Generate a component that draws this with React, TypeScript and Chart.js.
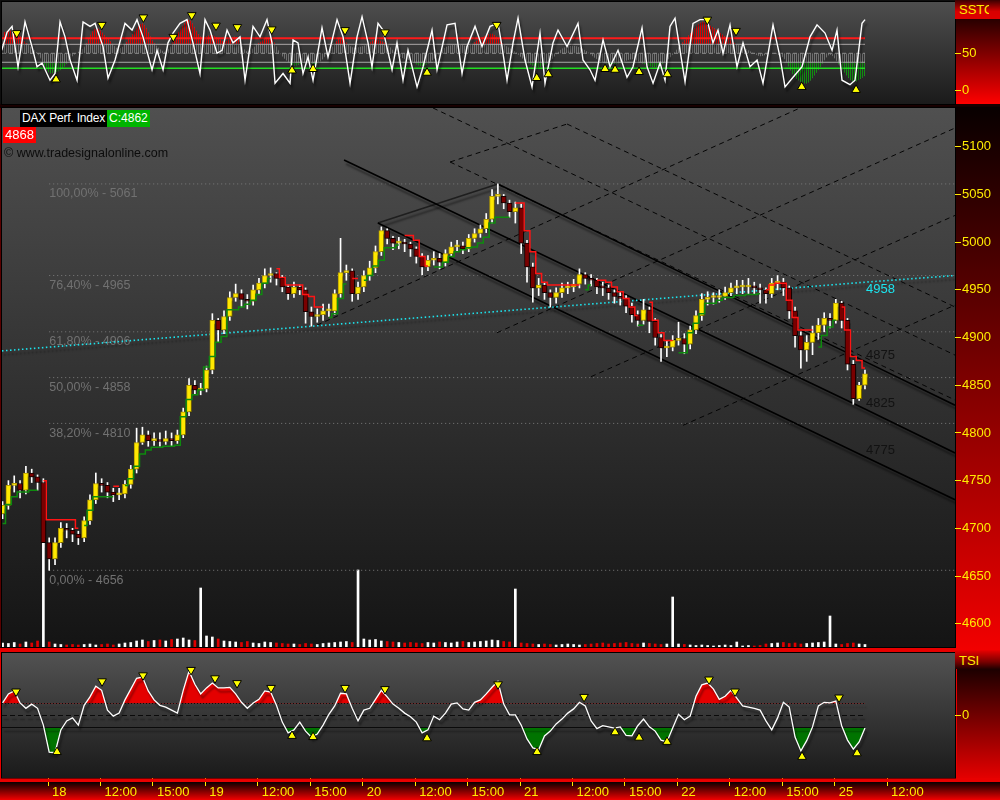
import React, { useEffect, useRef } from "react";
import { Chart, registerables } from "chart.js";

Chart.register(...registerables);

const FONT = "'Liberation Sans', Arial, sans-serif";
const YELLOW = "#ffec00";
const _ = null;

// ---------- time axis: 20-minute slots, slot 0 = day 18, 09:00 ----------
const TIME_TICKS = [0, 9, 18, 27, 36, 45, 54, 63, 72, 81, 90, 99, 108, 117, 126, 135, 144];
const TIME_LABELS = ["18", "12:00", "15:00", "19", "12:00", "15:00", "20", "12:00", "15:00", "21", "12:00", "15:00", "22", "12:00", "15:00", "25", "12:00"];
const X_MIN = -7.9;
const X_MAX = 155.65;
const FIRST_BAR_SLOT = -7.8;

// ---------- price bars (20 min) ----------
const OPEN_FIRST = 4715;
const CLOSE = [
  4724, 4745, 4747, 4740, 4758, 4754, 4748, 4685, 4668, 4685,
  4700, 4698, 4694, 4690, 4708, 4730, 4747, 4745, 4738, 4735,
  4736, 4746, 4762, 4790, 4798, 4792, 4793, 4791, 4794, 4792,
  4798, 4822, 4850, 4845, 4846, 4866, 4918, 4908, 4922, 4942,
  4946, 4940, 4938, 4950, 4957, 4965, 4967, 4962, 4953, 4946,
  4953, 4950, 4927, 4922, 4924, 4928, 4928, 4946, 4968, 4970,
  4946, 4953, 4965, 4973, 4990, 5012, 5004, 4999, 4999, 4998,
  4993, 4985, 4974, 4981, 4983, 4979, 4988, 4995, 4996, 4993,
  5004, 5009, 5014, 5024, 5048, 5048, 5041, 5032, 5036, 4999,
  4974, 4952, 4955, 4947, 4942, 4947, 4952, 4953, 4956, 4966,
  4962, 4960, 4953, 4952, 4947, 4943, 4941, 4933, 4924, 4918,
  4929, 4917, 4900, 4889, 4890, 4897, 4899, 4893, 4908, 4923,
  4940, 4942, 4942, 4943, 4947, 4952, 4953, 4953, 4953, 4952,
  4950, 4946, 4957, 4958, 4952, 4928, 4902, 4887, 4895, 4905,
  4913, 4920, 4918, 4936, 4918, 4872, 4836, 4850, 4862,
];
const HIGH = [
  4728, 4750, 4755, 4750, 4765, 4762, 4756, 4752, 4690, 4690,
  4706, 4705, 4700, 4697, 4712, 4735, 4758, 4752, 4748, 4742,
  4742, 4750, 4766, 4805, 4806, 4802, 4800, 4800, 4802, 4800,
  4803, 4826, 4857, 4855, 4852, 4870, 4925, 4920, 4928, 4948,
  4956, 4950, 4945, 4955, 4962, 4972, 4973, 4968, 4965, 4955,
  4958, 4955, 4952, 4932, 4930, 4935, 4935, 4950, 5004, 4976,
  4972, 4958, 4970, 4980, 4996, 5016, 5014, 5006, 5005, 5003,
  5000, 4995, 4988, 4986, 4990, 4988, 4992, 5000, 5002, 5000,
  5008, 5014, 5018, 5030, 5055, 5061, 5050, 5044, 5042, 5040,
  5002, 4978, 4962, 4958, 4950, 4952, 4957, 4958, 4961, 4972,
  4968, 4966, 4962, 4958, 4955, 4950, 4948, 4944, 4936, 4928,
  4940, 4932, 4920, 4903, 4897, 4902, 4916, 4904, 4912, 4928,
  4946, 4948, 4947, 4950, 4953, 4957, 4960, 4960, 4962, 4958,
  4956, 4952, 4962, 4965, 4962, 4954, 4932, 4906, 4902, 4912,
  4920, 4926, 4925, 4940, 4938, 4920, 4876, 4853, 4866,
];
const LOW = [
  4710, 4720, 4738, 4732, 4736, 4748, 4740, 4680, 4656, 4662,
  4680, 4690, 4686, 4683, 4686, 4704, 4726, 4738, 4732, 4728,
  4730, 4732, 4742, 4758, 4788, 4786, 4787, 4786, 4788, 4786,
  4789, 4795, 4818, 4840, 4840, 4843, 4862, 4895, 4904, 4918,
  4938, 4932, 4930, 4934, 4946, 4952, 4958, 4955, 4948, 4940,
  4942, 4945, 4915, 4912, 4916, 4918, 4922, 4924, 4942, 4960,
  4938, 4940, 4948, 4960, 4968, 4986, 4998, 4992, 4993, 4990,
  4985, 4978, 4966, 4970, 4976, 4972, 4975, 4985, 4990, 4988,
  4990, 5000, 5005, 5010, 5020, 5040, 5035, 5026, 5020, 4988,
  4958, 4937, 4944, 4940, 4932, 4936, 4942, 4946, 4948, 4952,
  4956, 4954, 4946, 4944, 4940, 4936, 4934, 4926, 4916, 4912,
  4914, 4905, 4892, 4875, 4880, 4886, 4892, 4883, 4888, 4904,
  4918, 4934, 4935, 4937, 4940, 4944, 4946, 4946, 4946, 4945,
  4936, 4936, 4942, 4950, 4944, 4920, 4890, 4868, 4875, 4882,
  4898, 4906, 4910, 4915, 4910, 4866, 4830, 4834, 4846,
];
const VOLUME = [
  40, 35, 45, 30, 50, 40, 60, 1070, 50, 30,
  25, 20, 25, 20, 25, 30, 20, 25, 30, 20,
  30, 40, 45, 60, 70, 55, 65, 70, 60, 75,
  80, 90, 70, 65, 590, 110, 100, 80, 60, 55,
  50, 45, 55, 40, 35, 50, 45, 40, 35, 30,
  30, 25, 35, 30, 25, 35, 40, 45, 50, 55,
  45, 770, 80, 70, 75, 60, 55, 50, 45, 40,
  45, 40, 35, 45, 40, 50, 45, 40, 50, 55,
  45, 50, 55, 60, 70, 65, 55, 50, 580, 40,
  35, 30, 25, 30, 25, 20, 25, 30, 25, 20,
  25, 30, 35, 40, 30, 35, 40, 45, 35, 30,
  40, 35, 30, 25, 30, 500, 30, 25, 20, 15,
  20, 15, 10, 15, 20, 15, 50, 10, 15, 10,
  15, 30, 35, 40, 45, 35, 40, 30, 35, 40,
  45, 50, 310, 30, 25, 35, 40, 30, 25,
];
const VOLUME_SIDE =
  "uuududdudu" + "uddduuuddd" + "uuuuududud" + "uuuduuuduu" + "udduuuuddd" +
  "uddduuuuuu" + "duuuuuddud" + "ddduuduuud" + "uuuuuuddud" + "ddudduuuuu" +
  "dddddddddd" + "uddduuuduu" + "uuuuuuuuud" + "dduudddduu" + "uuuuddduu";
const LONG_STOP = [
  4705, 4725, 4733, 4738, 4738, 4740, 4740, _, _, _,
  _, _, _, _, 4703, 4719, 4733, 4733, 4733, 4733,
  _, 4745, 4752, 4765, 4778, 4782, 4785, 4785, 4786, 4786,
  4787, 4817, 4835, 4840, 4845, 4869, 4880, 4895, 4901, 4929,
  4929, 4932, 4935, 4939, 4945, 4957, 4962, _, _, _,
  _, _, _, _, _, _, 4921, 4925, 4941, 4956,
  _, _, 4960, 4965, 4975, 4981, 4994, 4994, 4997, _,
  _, _, _, _, 4974, 4974, 4979, 4985, 4990, 4992,
  4994, 4995, 4999, 5005, 5020, 5026, 5026, 5026, _, _,
  _, _, _, _, _, _, _, _, _, _,
  4950, 4955, _, _, _, _, _, _, _, 4913,
  4913, _, _, _, _, _, 4884, 4884, 4905, 4915,
  4925, 4936, 4936, 4939, 4942, 4942, 4944, 4944, 4945, 4945,
  4946, _, _, _, _, _, _, _, _, _,
  4890, 4902, 4911, 4918, _, _, _, _, _,
];
const SHORT_STOP = [
  _, _, _, _, _, _, _, 4750, 4709, 4709,
  4709, 4709, 4709, 4700, _, _, _, _, _, 4744,
  4744, _, _, _, _, _, _, _, _, _,
  _, _, _, _, _, _, _, _, _, _,
  _, _, _, _, _, _, _, 4972, 4963, 4955,
  4955, 4955, 4945, 4943, 4932, 4932, _, _, _, _,
  4962, 4962, _, _, _, _, _, _, _, 5007,
  5007, 5002, 4985, 4975, _, _, _, _, _, _,
  _, _, _, _, _, _, _, _, 5041, 5041,
  5012, 4990, 4967, 4958, 4955, 4955, 4955, 4955, 4955, 4955,
  _, _, 4960, 4960, 4958, 4953, 4948, 4941, 4932, 4923,
  _, 4937, 4918, 4905, 4897, 4897, _, _, _, _,
  _, _, _, _, _, _, _, _, _, _,
  _, 4950, 4955, 4957, 4957, 4939, 4921, 4908, 4908, 4908,
  _, _, _, _, 4932, 4908, 4880, 4876, 4868,
];

// ---------- price axis & drawings ----------
const PRICE_MIN = 4575.6;
const PRICE_MAX = 5140.6;
const PRICE_TICKS = [4600, 4650, 4700, 4750, 4800, 4850, 4900, 4950, 5000, 5050, 5100];
const VOL_MAX = 5390;
const FIB_LEVELS = [5061, 4965, 4906, 4858, 4810, 4656];
const FIB_NAMES = ["100,00%", "76,40%", "61,80%", "50,00%", "38,20%", "0,00%"];
const FIB_START_SLOT = 0.2;
// channel lines: [startSlot, startValue, labelSlot, labelValue, endSlot, endValue]
const CHANNELS = [
  [77.2, 5061, 140.2, 4875, 155.65, 4829],
  [50.8, 5086, 140.2, 4825, 155.65, 4779],
  [56.6, 5020, 140.2, 4775, 155.65, 4730],
];
const CHANNEL_LINK = [[56.6, 5020], [77.2, 5061]];
const DASHED_LINES = [
  [66.07, 5140.6, 155.65, 4881.6],
  [89.07, 5123.8, 155.65, 4932.0],
  [68.99, 5084.0, 155.65, 4834.5],
  [68.99, 5084.0, 89.07, 5123.8],
  [46.16, 4913.0, 129.05, 5140.6],
  [77.05, 4905.0, 155.65, 5119.6],
  [93.19, 4859.0, 155.65, 5028.0],
  [108.98, 4808.0, 155.65, 4934.0],
];
const TREND = [[-7.9, 4886], [140.2, 4958], [155.65, 4965]];

// ---------- SSTO ----------
const SSTO_MIN = -17.8;
const SSTO_MAX = 118.6;
const SSTO_SLOT = [
  -7.95, -7.04, -6.18, -5.15, -3.95, -2.75, -1.89, -1.03, 0.34, 1.2,
  2.06, 2.92, 3.78, 4.98, 6.01, 7.21, 8.07, 9.44, 10.3, 11.5,
  13.21, 14.42, 15.27, 16.3, 17.85, 18.71, 19.74, 20.59, 21.45, 22.65,
  23.85, 24.88, 26.08, 26.94, 27.8, 29.0, 29.86, 30.72, 31.75, 32.95,
  33.81, 35.18, 36.38, 37.58, 38.44, 38.96, 40.33, 41.53, 42.05, 42.9,
  43.76, 44.62, 45.48, 47.02, 48.05, 49.6, 50.63, 51.83, 53.03, 53.89,
  54.92, 55.6, 56.63, 57.49, 59.04, 59.89, 60.92, 61.78, 63.33, 64.36,
  65.9, 66.76, 68.48, 69.85, 71.05, 71.91, 73.28, 74.48, 75.86, 77.23,
  77.91, 78.77, 79.8, 80.66, 81.86, 83.06, 84.43, 85.29, 86.66, 87.52,
  89.07, 90.95, 91.81, 93.01, 93.87, 95.25, 96.45, 97.82, 99.36, 100.39,
  101.94, 102.8, 103.83, 105.03, 105.89, 106.74, 107.6, 108.46, 109.32, 110.69,
  111.89, 113.09, 114.12, 114.98, 115.84, 117.04, 118.24, 119.27, 120.47, 121.68,
  122.7, 124.42, 125.62, 126.48, 127.85, 129.4, 130.77, 131.97, 133.34, 134.55,
  135.4, 136.26, 137.63, 138.49, 139.69, 140.21,
];
const SSTO_VALUE = [
  54, 78, 86, 32, 92, 59, 32, 37, 14, 23,
  92, 72, 41, 14, 92, 86, 90, 59, 17, 41,
  90, 81, 95, 72, 28, 54, 28, 64, 77, 90,
  95, 64, 23, 95, 81, 50, 54, 81, 64, 72,
  14, 86, 72, 95, 64, 10, 23, 10, 68, 64,
  23, 45, 14, 84, 45, 95, 72, 10, 72, 99,
  64, 32, 90, 81, 28, 64, 14, 54, 5, 32,
  81, 28, 88, 90, 23, 59, 86, 59, 86, 90,
  59, 14, 64, 97, 41, 5, 77, 10, 64, 81,
  59, 90, 41, 28, 14, 68, 32, 54, 18, 32,
  84, 32, 10, 37, 14, 86, 97, 54, 12, 90,
  95, 95, 64, 81, 50, 88, 32, 64, 32, 41,
  10, 88, 45, 5, 18, 32, 72, 88, 77, 54,
  81, 14, 8, 14, 90, 95,
];
// signal line, one value every second bar
const SSTO_SIGNAL = [
  78, 80, 64, 50, 24, 28, 46, 58, 84, 70,
  56, 72, 90, 64, 52, 76, 95, 72, 74, 66,
  72, 52, 64, 70, 46, 34, 38, 36, 52, 70,
  58, 60, 68, 62, 46, 40, 33, 42, 58, 62,
  60, 70, 76, 62, 52, 38, 32, 40, 56, 60,
  54, 42, 36, 37, 42, 36, 32, 40, 58, 76,
  92, 84, 72, 62, 54, 46, 50, 44, 18, 10,
  28, 48, 30, 12, 20,
];
const SSTO_LEVELS = [70, 62, 50, 38, 30];
const SSTO_PEAK_SLOT = [-5.37, 9.22, 16.36, 21.5, 24.66, 28.83, 32.49, 38.39, 50.97, 57.83, 77.0, 113.15, 118.07];
const SSTO_PEAK_VALUE = [77, 88, 98, 72, 101, 87, 85, 82, 81, 78, 88, 95, 80];
const SSTO_TROUGH_SLOT = [1.37, 41.87, 45.48, 65.04, 83.87, 85.86, 95.59, 97.31, 101.43, 106.29, 129.34, 138.67];
const SSTO_TROUGH_VALUE = [15, 27, 29, 24, 17, 22, 29, 28, 25, 22, 5, 1];

// ---------- TSI (one value per bar) ----------
const TSI_MIN = -104.2;
const TSI_MAX = 104.2;
const TSI = [
  21, 36, 41, 21, 12, 19, 12, -16, -61, -62,
  -24, -9, -4, -16, 17, 31, 49, 42, 9, -1,
  4, 26, 44, 62, 64, 41, 26, 17, 14, 9,
  4, 42, 74, 52, 36, 46, 54, 46, 46, 47,
  36, 22, 12, 21, 27, 41, 39, 17, -11, -29,
  -24, -11, -26, -36, -31, -16, 2, 16, 37, 36,
  12, -9, 9, 12, 27, 42, 31, 19, 12, 4,
  -2, -11, -29, -24, -1, -7, 4, 19, 21, 11,
  9, 22, 26, 36, 47, 57, 19, 1, 1, -16,
  -39, -54, -57, -34, -26, -14, -6, 4, 11, 22,
  16, -9, -22, -17, -19, -21, -19, -33, -34, -17,
  -6, -19, -26, -41, -44, -21, 2, -7, -1, 32,
  51, 54, 44, 27, 32, 42, 29, 16, 14, 12,
  9, -9, -24, -4, 22, 14, -36, -59, -42, -19,
  16, 22, 21, 24, -17, -41, -56, -44, -21,
];
const TSI_UPPER = 20;
const TSI_LOWER = -20;
const TSI_PEAK_SLOT = [-5.49, 9.27, 16.3, 24.54, 28.66, 32.44, 38.27, 50.97, 57.83, 77.23, 91.99, 113.44, 117.9, 135.75];
const TSI_PEAK_VALUE = [40, 57, 67, 76, 62, 54, 46, 46, 44, 52, 31, 60, 40, 30];
const TSI_TROUGH_SLOT = [1.54, 41.87, 45.48, 65.04, 83.92, 97.31, 101.43, 106.23, 129.4, 138.84];
const TSI_TROUGH_VALUE = [-61, -34, -36, -38, -61, -28, -37, -44, -69, -63];

// ---------- helpers ----------
const slot = (i: number) => FIRST_BAR_SLOT + i;
const LAST_SLOT = slot(CLOSE.length - 1);
const OPEN = CLOSE.map((c, i) => (i === 0 ? OPEN_FIRST : CLOSE[i - 1]));
const SHADOW = ["rgba(0,0,0,0.45)", 2, 4, 2];

function seg(points: number[][], color: string, width: number, dash: number[], order: number, extra: any = {}) {
  return {
    type: "line",
    data: points.map((p) => ({ x: p[0], y: p[1] })),
    borderColor: color,
    borderWidth: width,
    borderDash: dash,
    pointRadius: 0,
    pointHoverRadius: 0,
    fill: false,
    tension: 0,
    order,
    ...extra,
  };
}

function markers(xs: number[], ys: number[], rotation: number, order: number) {
  return {
    type: "line",
    showLine: false,
    data: xs.map((x, i) => ({ x, y: ys[i] })),
    pointStyle: "triangle",
    pointRadius: 5,
    pointRotation: rotation,
    pointBackgroundColor: "#ffff00",
    pointBorderColor: "#000000",
    pointBorderWidth: 1,
    clip: false,
    order,
  };
}

function vGrad(ctx: CanvasRenderingContext2D, y0: number, y1: number, c0: string, c1: string) {
  const g = ctx.createLinearGradient(0, y0, 0, y1);
  g.addColorStop(0, c0);
  g.addColorStop(1, c1);
  return g;
}

function hatch(ctx: CanvasRenderingContext2D, color: string) {
  const c = document.createElement("canvas");
  c.width = 2;
  c.height = 2;
  const g = c.getContext("2d")!;
  g.fillStyle = color;
  g.fillRect(0, 0, 1, 2);
  return ctx.createPattern(c, "repeat");
}

const shadowPlugin = {
  id: "dsShadow",
  beforeDatasetDraw(chart: any, args: any) {
    const ds: any = chart.data.datasets[args.index];
    if (!ds.shadow) return;
    const ctx = chart.ctx;
    ctx.save();
    ctx.shadowColor = ds.shadow[0];
    ctx.shadowOffsetX = ds.shadow[1];
    ctx.shadowOffsetY = ds.shadow[2];
    ctx.shadowBlur = ds.shadow[3];
  },
  afterDatasetDraw(chart: any, args: any) {
    const ds: any = chart.data.datasets[args.index];
    if (!ds.shadow) return;
    chart.ctx.restore();
  },
};

function xScale(show: boolean) {
  return {
    type: "linear",
    position: "bottom",
    min: X_MIN,
    max: X_MAX,
    display: show,
    offset: false,
    grid: { display: show, drawOnChartArea: false, drawTicks: true, tickLength: 8, color: YELLOW, tickColor: YELLOW },
    border: { display: false },
    afterBuildTicks: (ax: any) => {
      ax.ticks = TIME_TICKS.map((v) => ({ value: v }));
    },
    afterFit: (ax: any) => {
      ax.height = show ? 22 : 0;
      ax.paddingLeft = 0;
      ax.paddingRight = 0;
      ax.paddingTop = 0;
      ax.paddingBottom = 0;
    },
    ticks: {
      display: show,
      autoSkip: false,
      maxRotation: 0,
      minRotation: 0,
      align: "start",
      labelOffset: 4,
      padding: -1,
      color: YELLOW,
      font: { family: FONT, size: 13 },
      callback: (_v: any, i: number) => TIME_LABELS[i],
    },
  };
}

function yScale(min: number, max: number, tickValues: number[]) {
  return {
    type: "linear",
    position: "right",
    min,
    max,
    grid: { drawOnChartArea: false, drawTicks: true, tickLength: 6, color: YELLOW, tickColor: YELLOW },
    border: { display: false },
    afterBuildTicks: (ax: any) => {
      ax.ticks = tickValues.map((v) => ({ value: v }));
    },
    afterFit: (ax: any) => {
      ax.width = 45;
      ax.paddingTop = 0;
      ax.paddingBottom = 0;
      ax.paddingLeft = 0;
      ax.paddingRight = 0;
    },
    ticks: { color: YELLOW, padding: 1, font: { family: FONT, size: 13 }, callback: (v: any) => String(v) },
  };
}

function baseOptions(padding: any, scales: any) {
  return {
    responsive: false,
    maintainAspectRatio: false,
    animation: false,
    events: [],
    layout: { padding, autoPadding: false },
    plugins: { legend: { display: false }, tooltip: { enabled: false } },
    scales,
  };
}

// ---------- SSTO panel ----------
function sstoConfig(canvas: HTMLCanvasElement): any {
  const ctx = canvas.getContext("2d")!;
  const signal = SSTO_SIGNAL.map((v, k) => ({ x: slot(2 * k), y: v }));
  const levelStyle: any = {
    70: ["#ff1a1a", 2, []],
    62: ["#a8a8a8", 1, []],
    50: ["#8c8c8c", 1, [4, 3]],
    38: ["#a8a8a8", 1, []],
    30: ["#22dd22", 1.5, []],
  };
  const datasets: any[] = [
    { type: "line", data: signal, borderWidth: 0, pointRadius: 0, tension: 0.3, order: 20,
      fill: { target: { value: 50 }, above: hatch(ctx, "#707070"), below: hatch(ctx, "#707070") } },
    { type: "line", data: signal, borderWidth: 0, pointRadius: 0, tension: 0.3, order: 19,
      fill: { target: { value: 62 }, above: hatch(ctx, "#e00000"), below: "rgba(0,0,0,0)" } },
    { type: "line", data: signal, borderWidth: 0, pointRadius: 0, tension: 0.3, order: 18,
      fill: { target: { value: 38 }, above: "rgba(0,0,0,0)", below: hatch(ctx, "#109010") } },
  ];
  SSTO_LEVELS.forEach((lv) => {
    const s = levelStyle[lv];
    datasets.push(seg([[X_MIN, lv], [LAST_SLOT, lv]], s[0], s[1], s[2], 15));
  });
  datasets.push(seg(SSTO_SLOT.map((x, i) => [x, SSTO_VALUE[i]]), "#ffffff", 1.4, [], 5, { shadow: SHADOW }));
  datasets.push(markers(SSTO_PEAK_SLOT, SSTO_PEAK_VALUE, 180, 1));
  datasets.push(markers(SSTO_TROUGH_SLOT, SSTO_TROUGH_VALUE, 0, 1));

  const bg = {
    id: "sstoBg",
    beforeDraw(chart: any) {
      const { ctx: c, chartArea: a, width: w, height: h } = chart;
      c.save();
      c.fillStyle = "#0e0e0e";
      c.fillRect(0, 0, w, h);
      c.fillStyle = "#1a0000";
      c.fillRect(0, a.bottom, w, h - a.bottom);
      c.fillStyle = vGrad(c, a.top, a.bottom, "#4e4e4e", "#1b1b1b");
      c.fillRect(a.left, a.top, a.right - a.left, a.bottom - a.top);
      c.fillStyle = vGrad(c, 19, a.bottom, "#280000", "#ff0000");
      c.fillRect(a.right, 19, w - a.right, a.bottom - 19);
      c.strokeStyle = "#000";
      c.lineWidth = 1;
      c.strokeRect(a.left - 0.5, a.top - 0.5, a.right - a.left + 1, a.bottom - a.top + 1);
      c.restore();
    },
  };
  return {
    type: "line",
    data: { datasets },
    options: baseOptions({ left: 2, top: 2, right: 0, bottom: 2 }, { x: xScale(false), y: yScale(SSTO_MIN, SSTO_MAX, [0, 50]) }),
    plugins: [bg, shadowPlugin],
  };
}

// ---------- main price panel ----------
function mainConfig(): any {
  const datasets: any[] = [];
  datasets.push({
    type: "bar",
    yAxisID: "vol",
    data: VOLUME.map((v, i) => ({ x: slot(i), y: v })),
    backgroundColor: VOLUME.map((_v, i) => (VOLUME_SIDE[i] === "u" ? "#ffffff" : "#e00000")),
    barThickness: 2,
    grouped: false,
    order: 40,
  });
  FIB_LEVELS.forEach((lv) => datasets.push(seg([[FIB_START_SLOT, lv], [X_MAX, lv]], "#7c7c7c", 1, [1, 3], 39)));
  DASHED_LINES.forEach((l) => datasets.push(seg([[l[0], l[1]], [l[2], l[3]]], "#050505", 1, [5, 4], 38)));
  datasets.push(seg(CHANNEL_LINK, "#1e1e1e", 1.5, [], 37, { shadow: SHADOW }));
  CHANNELS.forEach((c) =>
    datasets.push(seg([[c[0], c[1]], [c[2], c[3]], [c[4], c[5]]], "#000000", 1.6, [], 36, { shadow: SHADOW }))
  );
  datasets.push(seg(TREND, "#1ce4ee", 1.6, [1.5, 2.5], 35, { shadow: SHADOW }));
  datasets.push({
    type: "bar",
    data: CLOSE.map((c, i) => ({ x: slot(i), y: [LOW[i], HIGH[i]] })),
    backgroundColor: "#ffffff",
    barThickness: 1,
    grouped: false,
    order: 30,
  });
  datasets.push({
    type: "bar",
    data: CLOSE.map((c, i) => ({ x: slot(i), y: [OPEN[i], c] })),
    backgroundColor: CLOSE.map((c, i) => (c >= OPEN[i] ? "#ffe800" : "#7a0000")),
    borderColor: CLOSE.map((c, i) => (c >= OPEN[i] ? "#b89e00" : "#160000")),
    borderWidth: 1,
    borderSkipped: false,
    minBarLength: 2,
    barThickness: 5,
    grouped: false,
    order: 29,
    shadow: ["rgba(0,0,0,0.35)", 2, 3, 1],
  });
  datasets.push({
    type: "line",
    data: LONG_STOP.map((v, i) => ({ x: slot(i), y: v })),
    borderColor: "#0e8a0e",
    borderWidth: 1.5,
    stepped: "middle",
    pointRadius: 0,
    spanGaps: false,
    fill: false,
    order: 20,
  });
  datasets.push({
    type: "line",
    data: SHORT_STOP.map((v, i) => ({ x: slot(i), y: v })),
    borderColor: "#ff1414",
    borderWidth: 1.5,
    stepped: "middle",
    pointRadius: 0,
    spanGaps: false,
    fill: false,
    order: 19,
  });

  const bg = {
    id: "mainBg",
    beforeDraw(chart: any) {
      const { ctx: c, chartArea: a, width: w, height: h } = chart;
      c.save();
      c.fillStyle = "#140000";
      c.fillRect(0, 0, w, h);
      c.fillStyle = "#5a0000";
      c.fillRect(0, a.top, a.left, a.bottom - a.top);
      c.fillStyle = "#e80000";
      c.fillRect(0, a.bottom + 1, w, h - a.bottom - 1);
      c.fillStyle = vGrad(c, a.top, a.bottom, "#505050", "#141414");
      c.fillRect(a.left, a.top, a.right - a.left, a.bottom - a.top);
      c.fillStyle = vGrad(c, a.top, a.bottom + 3, "#080000", "#f20000");
      c.fillRect(a.right, a.top - 1, w - a.right, h - a.top + 1);
      c.strokeStyle = "#000";
      c.lineWidth = 1;
      c.strokeRect(a.left - 0.5, a.top - 0.5, a.right - a.left + 1, a.bottom - a.top + 1);
      c.restore();
    },
    beforeDatasetsDraw(chart: any) {
      const { ctx: c, scales } = chart;
      const x = scales.x;
      const y = scales.y;
      c.save();
      c.font = `12.5px ${FONT}`;
      c.textBaseline = "middle";
      c.textAlign = "left";
      c.fillStyle = "#717171";
      FIB_LEVELS.forEach((lv, i) => {
        c.fillText(`${FIB_NAMES[i]} - ${lv}`, x.getPixelForValue(FIB_START_SLOT), y.getPixelForValue(lv) + 10);
      });
      c.restore();
    },
    afterDatasetsDraw(chart: any) {
      const { ctx: c, scales } = chart;
      const x = scales.x;
      const y = scales.y;
      c.save();
      c.font = `13px ${FONT}`;
      c.textBaseline = "middle";
      c.textAlign = "left";
      c.fillStyle = "#121212";
      CHANNELS.forEach((ch) => {
        c.fillText(String(ch[3]), x.getPixelForValue(ch[2]) + 1, y.getPixelForValue(ch[3]) - 6);
      });
      c.fillStyle = "#1ce4ee";
      c.fillText(String(TREND[1][1]), x.getPixelForValue(TREND[1][0]) + 1, y.getPixelForValue(TREND[1][1]) + 7);
      c.restore();
    },
  };
  return {
    type: "line",
    data: { datasets },
    options: baseOptions(
      { left: 2, top: 2, right: 0, bottom: 3 },
      {
        x: xScale(false),
        y: yScale(PRICE_MIN, PRICE_MAX, PRICE_TICKS),
        vol: { type: "linear", display: false, min: 0, max: VOL_MAX },
      }
    ),
    plugins: [bg, shadowPlugin],
  };
}

// ---------- TSI panel ----------
function tsiConfig(): any {
  const pts = TSI.map((v, i) => ({ x: slot(i), y: v }));
  const datasets: any[] = [
    { type: "line", data: pts, borderWidth: 0, pointRadius: 0, tension: 0, order: 20,
      fill: { target: { value: TSI_UPPER }, above: "#e40000", below: "rgba(0,0,0,0)" } },
    { type: "line", data: pts, borderWidth: 0, pointRadius: 0, tension: 0, order: 19,
      fill: { target: { value: TSI_LOWER }, above: "rgba(0,0,0,0)", below: "#007400" } },
    seg([[X_MIN, TSI_UPPER], [LAST_SLOT, TSI_UPPER]], "#0a0a0a", 1.2, [1, 2], 15, { shadow: SHADOW }),
    seg([[X_MIN, 0], [LAST_SLOT, 0]], "#0a0a0a", 1.2, [5, 3], 15, { shadow: SHADOW }),
    seg([[X_MIN, TSI_LOWER], [LAST_SLOT, TSI_LOWER]], "#0a0a0a", 1.2, [], 15, { shadow: SHADOW }),
    seg(TSI.map((v, i) => [slot(i), v]), "#ffffff", 1.3, [], 5, { shadow: SHADOW }),
    markers(TSI_PEAK_SLOT, TSI_PEAK_VALUE, 180, 1),
    markers(TSI_TROUGH_SLOT, TSI_TROUGH_VALUE, 0, 1),
  ];
  const bg = {
    id: "tsiBg",
    beforeDraw(chart: any) {
      const { ctx: c, chartArea: a, width: w, height: h } = chart;
      c.save();
      c.fillStyle = "#e80000";
      c.fillRect(0, 0, w, h);
      c.fillStyle = vGrad(c, a.top, a.bottom, "#525252", "#1a1a1a");
      c.fillRect(a.left, a.top, a.right - a.left, a.bottom - a.top);
      c.fillStyle = vGrad(c, 19, a.bottom, "#1c0000", "#e40000");
      c.fillRect(a.right + 2, 19, w - a.right - 2, a.bottom - 19);
      c.fillStyle = vGrad(c, a.bottom + 4, h, "#0a0000", "#f20000");
      c.fillRect(0, a.bottom + 4, w, h - a.bottom - 4);
      c.strokeStyle = "#000";
      c.lineWidth = 1;
      c.strokeRect(a.left - 0.5, a.top - 0.5, a.right - a.left + 1, a.bottom - a.top + 1);
      c.restore();
    },
    afterDraw(chart: any) {
      const { ctx: c, chartArea: a, width: w } = chart;
      c.save();
      c.fillStyle = "#e80000";
      c.fillRect(0, a.bottom + 0.5, w, 3.5);
      c.restore();
    },
  };
  return {
    type: "line",
    data: { datasets },
    options: baseOptions({ left: 2, top: 3, right: 0, bottom: 0 }, { x: xScale(true), y: yScale(TSI_MIN, TSI_MAX, [0]) }),
    plugins: [bg, shadowPlugin],
  };
}

export default function App() {
  const topRef = useRef<HTMLCanvasElement>(null);
  const mainRef = useRef<HTMLCanvasElement>(null);
  const tsiRef = useRef<HTMLCanvasElement>(null);

  useEffect(() => {
    const charts = [
      new Chart(topRef.current!, sstoConfig(topRef.current!)),
      new Chart(mainRef.current!, mainConfig()),
      new Chart(tsiRef.current!, tsiConfig()),
    ];
    return () => charts.forEach((c) => c.destroy());
  }, []);

  const abs = (left: number, top: number, w: number, h: number): any => ({
    position: "absolute", left, top, width: w, height: h,
  });
  const lastClose = CLOSE[CLOSE.length - 1];
  const lastStop = SHORT_STOP[SHORT_STOP.length - 1];

  return (
    <div style={{ position: "fixed", left: 0, top: 0, width: 1000, height: 800, background: "#000", overflow: "hidden", fontFamily: FONT }}>
      <canvas ref={topRef} width={1000} height={106} style={abs(0, 0, 1000, 106)} />
      <canvas ref={mainRef} width={1000} height={544} style={abs(0, 106, 1000, 544)} />
      <canvas ref={tsiRef} width={1000} height={150} style={abs(0, 650, 1000, 150)} />

      <div style={{ ...abs(955, 0, 45, 19), background: "linear-gradient(#3a0000, #d80000 60%, #e00000)" }}>
        <div style={{ position: "absolute", left: 4, top: 2, width: 30, overflow: "hidden", whiteSpace: "nowrap", color: YELLOW, fontSize: 13, lineHeight: "15px" }}>SSTO</div>
      </div>
      <div style={{ ...abs(955, 651, 45, 18), background: "linear-gradient(#e00000, #7a0000 60%, #200000)" }}>
        <div style={{ position: "absolute", left: 4, top: 2, color: YELLOW, fontSize: 13, lineHeight: "15px" }}>TSI</div>
      </div>

      <div style={{ position: "absolute", left: 20, top: 110, height: 17, display: "flex", fontSize: 12, lineHeight: "17px", color: "#fff", whiteSpace: "nowrap" }}>
        <div style={{ background: "#000", padding: "0 2px", letterSpacing: -0.2 }}>DAX Perf. Index</div>
        <div style={{ background: "#00b400", padding: "0 2px" }}>{`C:${lastClose}`}</div>
      </div>
      <div style={{ ...abs(3, 127, 33, 16), background: "#ff0000", color: "#fff", fontSize: 13, lineHeight: "16px", paddingLeft: 2, boxSizing: "border-box" }}>{String(lastStop)}</div>
      <div style={{ position: "absolute", left: 4, top: 145, color: "#0c0c0c", fontSize: 12.5, lineHeight: "16px", whiteSpace: "nowrap" }}>© www.tradesignalonline.com</div>
    </div>
  );
}
